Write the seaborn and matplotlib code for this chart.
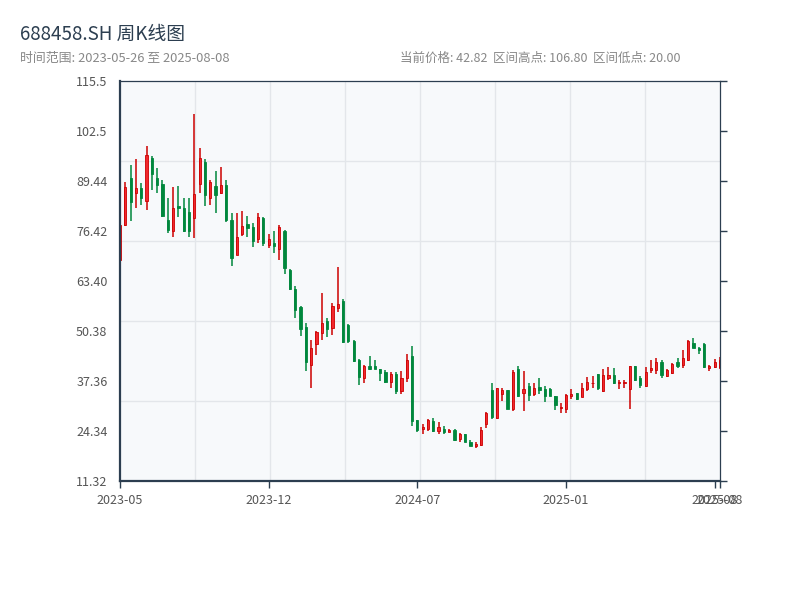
import numpy as np
import pandas as pd
import matplotlib
matplotlib.use("Agg")
import matplotlib.pyplot as plt
import seaborn as sns

symbol = "688458.SH"

# weekly bars, holiday weeks with no trading removed
dates = pd.date_range("2023-05-26", "2025-08-08", freq="W-FRI")
dates = dates.drop(pd.to_datetime(["2023-10-06", "2024-02-16"]))

opens = [69.0, 78.0, 90.2, 86.4, 87.6, 84.3, 95.5, 90.2, 88.7, 79.3,
         76.5, 82.9, 82.5, 81.4, 79.9, 88.6, 94.4, 85.0, 88.2, 86.2,
         88.4, 79.3, 70.2, 75.65, 78.3, 77.6, 74.4, 79.8, 72.7, 73.3,
         71.8, 76.5, 66.3, 61.4, 56.7, 51.5, 41.45, 46.9, 49.95, 53.0,
         51.1, 56.5, 58.3, 51.9, 47.9, 42.8, 38.15, 41.3, 41.35, 40.5,
         39.8, 37.1, 39.35, 34.9, 38.15, 43.8, 27.2, 24.9, 25.0, 26.9,
         24.5, 25.0, 24.2, 24.6, 22.2, 23.6, 21.55, 20.5, 20.7, 26.2,
         35.0, 27.8, 33.9, 35.0, 30.0, 40.4, 34.3, 36.06, 33.9, 35.9,
         35.2, 35.2, 33.5, 30.25, 30.0, 33.5, 34.15, 33.3, 35.2, 36.75,
         39.2, 34.85, 38.3, 38.9, 36.75, 36.75, 35.2, 41.3, 38.1, 36.15,
         40.2, 40.2, 42.4, 38.75, 39.4, 42.4, 41.5, 42.8, 47.2, 46.1,
         47.0, 40.9, 41.1, 40.85]
highs = [79.1, 89.2, 93.6, 95.2, 88.9, 98.6, 96.0, 92.8, 89.7, 85.0,
         87.9, 88.2, 85.0, 85.0, 106.8, 98.1, 95.2, 89.6, 92.1, 93.1,
         89.7, 81.0, 81.1, 81.6, 80.3, 78.5, 81.1, 80.0, 75.65, 76.4,
         78.0, 76.7, 66.5, 62.1, 56.9, 52.6, 48.05, 50.4, 60.3, 53.8,
         57.7, 67.05, 58.8, 52.2, 48.05, 43.2, 41.45, 43.9, 42.85, 40.6,
         40.2, 39.8, 39.7, 39.95, 44.5, 46.4, 27.3, 26.2, 27.5, 27.7,
         26.7, 25.65, 25.0, 24.85, 23.9, 23.7, 22.0, 21.4, 25.3, 29.4,
         36.9, 35.6, 35.7, 35.1, 40.2, 41.25, 39.95, 36.9, 36.9, 38.2,
         36.06, 35.45, 33.6, 31.55, 33.9, 35.2, 34.3, 37.0, 38.4, 38.7,
         39.3, 40.5, 41.1, 40.7, 37.6, 37.6, 41.4, 41.4, 38.7, 41.1,
         42.8, 43.5, 42.8, 40.5, 42.2, 43.3, 45.4, 48.05, 48.5, 46.2,
         47.2, 41.5, 43.0, 43.6]
lows = [67.9, 77.8, 79.1, 82.3, 83.3, 82.0, 87.2, 86.2, 80.1, 75.8,
        75.0, 80.1, 76.3, 75.0, 74.7, 86.2, 83.0, 83.2, 81.1, 86.0,
        78.9, 67.4, 70.1, 75.1, 74.9, 72.35, 73.4, 72.6, 71.9, 70.8,
        68.9, 65.2, 61.2, 53.9, 49.2, 40.05, 35.6, 44.2, 48.15, 48.9,
        49.4, 55.4, 47.4, 47.2, 42.4, 36.3, 36.9, 40.3, 40.5, 37.5,
        36.9, 35.5, 34.0, 34.0, 37.1, 25.7, 24.1, 23.65, 24.35, 24.2,
        23.6, 23.7, 24.1, 21.8, 21.6, 21.5, 20.4, 20.0, 20.6, 25.2,
        27.5, 27.4, 32.2, 30.1, 29.55, 33.3, 29.55, 32.2, 33.6, 34.1,
        32.0, 33.4, 29.8, 29.1, 29.1, 32.6, 32.5, 33.2, 34.8, 35.45,
        35.0, 34.6, 37.6, 36.65, 35.3, 35.45, 30.1, 37.5, 35.6, 35.9,
        39.4, 39.2, 38.3, 38.5, 39.1, 40.9, 40.7, 42.65, 45.9, 44.4,
        40.7, 40.05, 40.85, 40.75]
closes = [78.0, 87.9, 84.1, 87.6, 85.0, 96.1, 91.4, 88.5, 80.4, 76.6,
          82.3, 82.3, 76.5, 76.4, 86.0, 95.4, 85.8, 89.2, 85.8, 88.3,
          79.3, 69.5, 75.0, 77.65, 77.3, 73.9, 80.0, 73.4, 74.35, 72.5,
          77.4, 66.8, 61.3, 55.9, 50.9, 42.4, 46.1, 50.05, 52.4, 50.9,
          56.9, 57.35, 47.6, 47.8, 42.6, 38.5, 41.2, 40.5, 40.6, 39.5,
          37.1, 39.35, 34.9, 38.15, 42.8, 27.0, 24.6, 25.3, 27.2, 24.4,
          25.3, 24.2, 24.6, 22.0, 23.65, 21.6, 20.5, 21.05, 24.6, 29.1,
          28.1, 35.6, 35.0, 30.2, 39.8, 33.5, 35.2, 33.7, 35.7, 35.1,
          33.5, 33.5, 31.1, 30.7, 33.7, 34.0, 32.6, 35.45, 37.1, 36.9,
          35.45, 38.9, 38.9, 36.75, 37.2, 37.2, 41.3, 37.6, 36.3, 39.8,
          40.8, 42.4, 38.9, 40.2, 41.95, 41.35, 43.3, 47.9, 46.1, 45.4,
          41.1, 41.3, 42.4, 42.82]

df = pd.DataFrame({"date": dates, "open": opens, "high": highs,
                   "low": lows, "close": closes})
df["x"] = np.arange(len(df))
df["up"] = df["close"] >= df["open"]

sns.set_theme(style="white")
plt.rcParams["font.family"] = ["Noto Sans CJK SC", "DejaVu Sans"]
plt.rcParams["axes.unicode_minus"] = False

red_edge = "#cc0000"
red_fill = "#f0282d"
green = "#00873c"
dark = "#2c3e50"

fig = plt.figure(figsize=(8, 6), dpi=100)
ax = fig.add_axes([0.15, 0.198, 0.75, 0.667])
ax.set_facecolor("#f7f9fb")

# light grid, evenly split
for f in np.arange(1, 8) / 8:
    ax.plot([f, f], [0, 1], transform=ax.transAxes, color="#e3e6ea", lw=1, zorder=0)
for f in np.arange(1, 5) / 5:
    ax.plot([0, 1], [f, f], transform=ax.transAxes, color="#e3e6ea", lw=1, zorder=0)

up = df[df["up"]]
dn = df[~df["up"]]
ax.vlines(up["x"], up["low"], up["high"], color=red_edge, lw=1.1, zorder=2)
ax.vlines(dn["x"], dn["low"], dn["high"], color=green, lw=1.1, zorder=2)
ax.bar(up["x"], np.maximum(up["close"] - up["open"], 0.2), bottom=up["open"],
       width=0.42, color=red_fill, edgecolor=red_edge, linewidth=0.6, zorder=3)
ax.bar(dn["x"], np.maximum(dn["open"] - dn["close"], 0.2), bottom=dn["close"],
       width=0.42, color=green, edgecolor=green, linewidth=0.6, zorder=3)

hi = df["high"].max()
lo = df["low"].min()
pad = (hi - lo) * 0.1
ymin, ymax = lo - pad, hi + pad
ax.set_ylim(ymin, ymax)
yt = np.linspace(ymin, ymax, 9)
ax.set_yticks(yt)
ax.set_yticklabels([f"{v:#.4g}" for v in yt])

n = len(df)
ax.set_xlim(0, n - 1)
xt = list(range(0, n, 28)) + [n - 1]
ax.set_xticks(xt)
ax.set_xticklabels([df["date"].iloc[i].strftime("%Y-%m") for i in xt])

ax.tick_params(axis="both", which="both", direction="out", length=5, width=1,
               color=dark, labelsize=9, labelcolor="#555555", pad=4)
ax.tick_params(axis="y", right=True, labelright=False)
ax.tick_params(axis="x", bottom=True)

for side in ["left", "bottom"]:
    ax.spines[side].set_color(dark)
    ax.spines[side].set_linewidth(1.6)
for side in ["right", "top"]:
    ax.spines[side].set_color(dark)
    ax.spines[side].set_linewidth(0.9)
    ax.spines[side].set_visible(True)
for s in ax.spines.values():
    s.set_zorder(5)

fig.text(0.025, 0.942, f"{symbol} 周K线图", fontsize=13.5, color=dark, va="center")
fig.text(0.025, 0.903,
         f"时间范围: {df['date'].iloc[0]:%Y-%m-%d} 至 {df['date'].iloc[-1]:%Y-%m-%d}",
         fontsize=9.3, color="#888888", va="center")
fig.text(0.5, 0.903,
         f"当前价格: {closes[-1]:.2f}  区间高点: {hi:.2f}  区间低点: {lo:.2f}",
         fontsize=9, color="#888888", va="center")

fig.savefig("out.png", dpi=100)
